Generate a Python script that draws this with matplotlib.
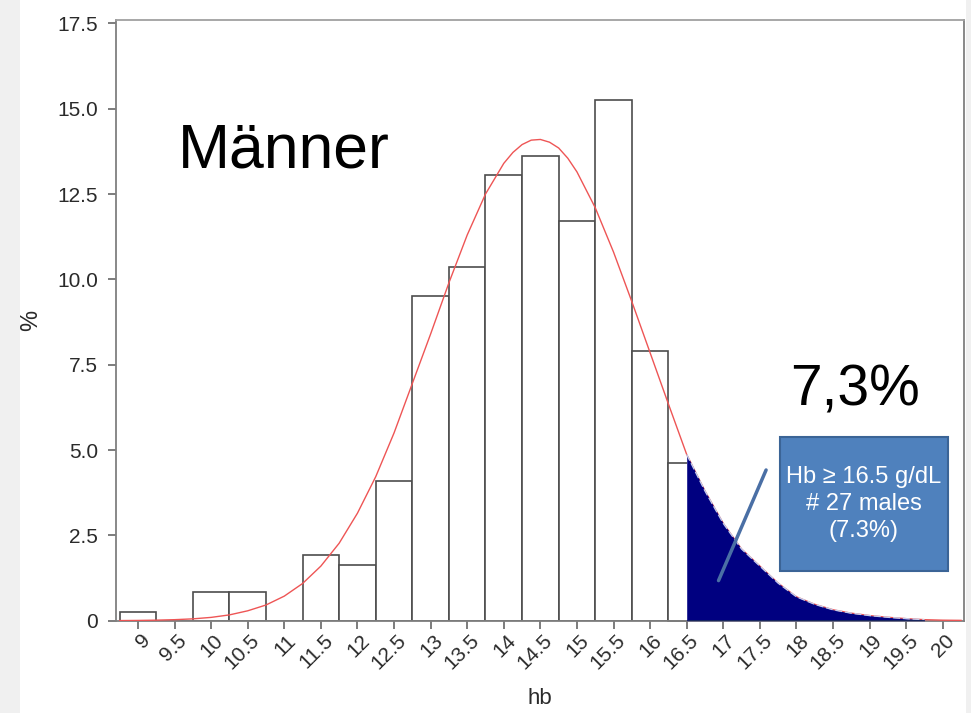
import matplotlib
matplotlib.use("Agg")
import matplotlib.pyplot as plt
from matplotlib.patches import Rectangle
from matplotlib.transforms import ScaledTranslation
import numpy as np

plt.rcParams['font.family'] = ['Liberation Sans', 'DejaVu Sans']

# ---- data ----
hb_bins = [9, 9.5, 10, 10.5, 11, 11.5, 12, 12.5, 13, 13.5, 14, 14.5, 15, 15.5, 16, 16.5]
pct = [0.26, 0.0, 0.83, 0.83, 0.0, 1.92, 1.63, 4.09, 9.51, 10.36, 13.05, 13.61, 11.71, 15.25, 7.90, 4.63]

curve_x = [8.75, 9.0, 9.25, 9.5, 9.75, 10.0, 10.25, 10.5, 10.75, 11.0, 11.25, 11.5, 11.75,
           12.0, 12.25, 12.5, 12.75, 13.0, 13.25, 13.5, 13.75, 14.0, 14.125, 14.25, 14.375,
           14.5, 14.625, 14.75, 14.875, 15.0, 15.25, 15.5, 15.75, 16.0, 16.25, 16.5, 16.75,
           17.0, 17.25, 17.5, 17.75, 18.0, 18.25, 18.5, 18.75, 19.0, 19.25, 19.5, 19.75,
           20.0, 20.25]
curve_y = [0.004, 0.008, 0.016, 0.03, 0.054, 0.097, 0.17, 0.29, 0.46, 0.72, 1.09, 1.6, 2.27,
           3.15, 4.22, 5.5, 6.95, 8.4, 9.9, 11.3, 12.5, 13.4, 13.72, 13.95, 14.08,
           14.1, 14.02, 13.85, 13.55, 13.15, 12.1, 10.8, 9.35, 7.85, 6.35, 4.87, 3.8,
           2.85, 2.1, 1.6, 1.1, 0.7, 0.48, 0.32, 0.22, 0.15, 0.10, 0.06, 0.03,
           0.015, 0.01]

tail_start = 16.5
tail_end = 19.75

xtick_vals = [9, 9.5, 10, 10.5, 11, 11.5, 12, 12.5, 13, 13.5, 14, 14.5, 15, 15.5, 16, 16.5,
              17, 17.5, 18, 18.5, 19, 19.5, 20]
xtick_labels = ["9", "9.5", "10", "10.5", "11", "11.5", "12", "12.5", "13", "13.5", "14", "14.5",
                "15", "15.5", "16", "16.5", "17", "17.5", "18", "18.5", "19", "19.5", "20"]
ytick_vals = [0, 2.5, 5.0, 7.5, 10.0, 12.5, 15.0, 17.5]
ytick_labels = ["0", "2.5", "5.0", "7.5", "10.0", "12.5", "15.0", "17.5"]

# ---- figure ----
W, H = 971, 713
fig = plt.figure(figsize=(W / 100, H / 100), dpi=100, facecolor='white')
fig.patches.extend([
    Rectangle((0, 0), 20 / W, 1, transform=fig.transFigure, facecolor='#f0f0f0',
              edgecolor='none', zorder=-10),
    Rectangle((966 / W, 0), 5 / W, 1, transform=fig.transFigure, facecolor='#f0f0f0',
              edgecolor='none', zorder=-10),
])

ax = fig.add_axes([116 / W, 1 - 620.7 / H, 848 / W, 600.7 / H])
ax.set_xlim(8.70, 20.29)
ax.set_ylim(0, 17.6)

bars = ax.bar(hb_bins, pct, width=0.5, facecolor='white', edgecolor='#4d4d4d',
              linewidth=1.2, zorder=2)
# the shaded tail is pasted over the histogram: hide bar parts right of its start
clip_rect = Rectangle((ax.get_xlim()[0], -1), tail_start - ax.get_xlim()[0], 30,
                      transform=ax.transData, visible=False)
ax.add_patch(clip_rect)
for p in bars.patches:
    if p.get_x() + p.get_width() > tail_start:
        p.set_clip_path(clip_rect)

cx = np.array(curve_x)
cy = np.array(curve_y)
ax.plot(cx, cy, color='#ee5555', lw=1.0, zorder=3)

mask = (cx >= tail_start) & (cx <= tail_end)
ax.fill_between(cx[mask], 0, cy[mask], color='#000080', lw=0, zorder=4)
ax.plot(cx[mask], cy[mask], color='#c4cdea', lw=1.0, ls=(0, (5, 2)), zorder=5)
ax.plot(cx[mask][[0, -1]], [0, 0], color='#1a2a5a', lw=2, zorder=5, solid_capstyle='butt')

# annotation box
ax.annotate('', xy=(16.92, 1.10), xytext=(17.6, 4.49),
            arrowprops=dict(arrowstyle='-', color='#4a6fa5', lw=2.5), zorder=6)
ax.add_patch(Rectangle((17.77, 1.46), 2.30, 3.92, facecolor='#4f81bd', edgecolor='#3b6496',
                       lw=1.5, zorder=6, clip_on=False))
ax.text(18.92, 3.42, "Hb \u2265 16.5 g/dL\n# 27 males\n(7.3%)", ha='center', va='center',
        color='white', fontsize=17, linespacing=1.3, zorder=7)

ax.text(9.54, 13.29, 'Männer', fontsize=45, ha='left', va='baseline', color='black', zorder=8)
ax.text(17.91, 6.30, '7,3%', fontsize=41, ha='left', va='baseline', color='black', zorder=8)

ax.set_xticks(xtick_vals)
ax.set_xticklabels(xtick_labels, rotation=45, ha='right', va='center', rotation_mode='anchor',
                   fontsize=15, color='#2a2a2a')
ax.tick_params(axis='x', length=6, width=1.2, pad=6, color='#666666')
offset = ScaledTranslation(9 / 100, 0, fig.dpi_scale_trans)
for lab in ax.get_xticklabels():
    lab.set_transform(lab.get_transform() + offset)

ax.set_yticks(ytick_vals)
ax.set_yticklabels(ytick_labels, fontsize=15, color='#2a2a2a')
ax.tick_params(axis='y', length=6, width=1.2, pad=7, color='#666666')

for s in ['left', 'bottom', 'right']:
    ax.spines[s].set_color('#7f7f7f')
    ax.spines[s].set_linewidth(1.3)
ax.spines['top'].set_color('#a0a0a0')
ax.spines['top'].set_linewidth(1.3)

ax.set_ylabel('%', fontsize=17, color='#2a2a2a')
ax.yaxis.set_label_coords(-0.087, 0.5)
ax.set_xlabel('hb', fontsize=16, color='#2a2a2a')
ax.xaxis.set_label_coords(0.5, -0.129)
ax.xaxis.label.set_va('center')

fig.savefig('out.png', dpi=100, facecolor='white')
